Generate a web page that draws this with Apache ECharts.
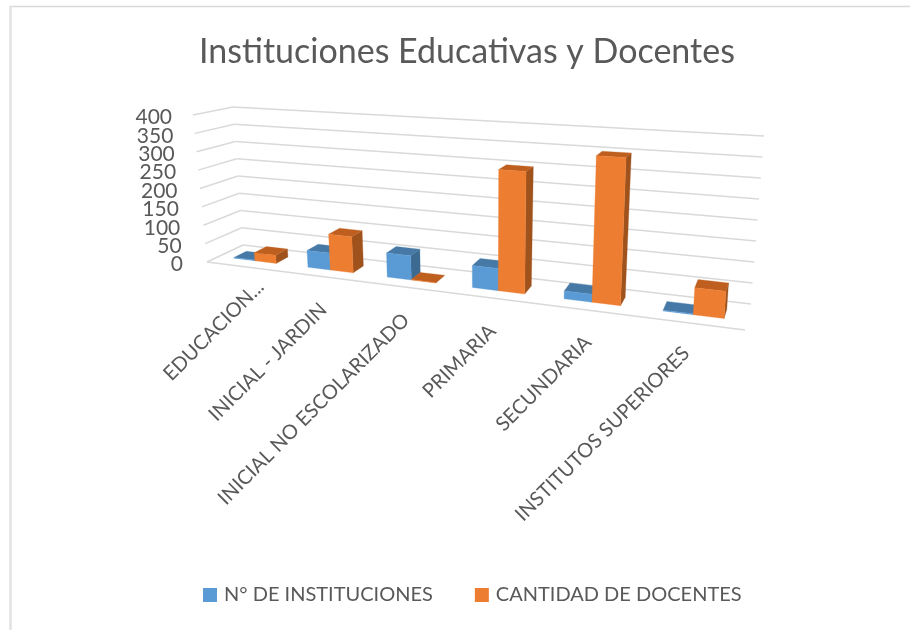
<!DOCTYPE html>
<html><head><meta charset="utf-8">
<style>html,body{margin:0;padding:0;background:#fff}#c{width:910px;height:630px}</style>
<script src="https://cdn.jsdelivr.net/npm/echarts@6/dist/echarts.min.js"></script>
</head><body><div id="c"></div>
<script>
const categories = ['EDUCACION...','INICIAL - JARDIN','INICIAL NO ESCOLARIZADO','PRIMARIA','SECUNDARIA','INSTITUTOS SUPERIORES'];
const instituciones = [2,45,62,55,19,2];
const docentes = [22,95,1,300,350,62];
const yTicks = [0,50,100,150,200,250,300,350,400];

// Oblique projection of the plot box: (across, up, depth) in 0..1 to pixels
const C = {f0l:[207,262],f0r:[745,330],b0l:[243,245],b0r:[751,304],f1l:[193,115],f1r:[757,148],b1l:[233,107],b1r:[764,136]};
const lerp=(a,b,t)=>[a[0]+(b[0]-a[0])*t,a[1]+(b[1]-a[1])*t];
const warp=u=>u/(u+1.247*(1-u));
function P(u,v,d){
  const t=warp(u);
  const f0=lerp(C.f0l,C.f0r,t),f1=lerp(C.f1l,C.f1r,t),b0=lerp(C.b0l,C.b0r,t),b1=lerp(C.b1l,C.b1r,t);
  return lerp(lerp(f0,f1,v),lerp(b0,b1,v),d);
}
const norm=(params,pt)=>{const r=params.coordSys;return [(pt[0]-r.x)/r.width,1-(pt[1]-r.y)/r.height];};
const GRID='#D9D9D9', TXT='#595959', FONT='Lato, Carlito, "Noto Sans", sans-serif';
const D0=1/3,D1=0.69,BAR=0.29;
const labelNudge=[[14,-13],[0,0],[0,0],[-2,0],[-2,-1],[-7,-3]];

function barRender(side,cols){
  return function(params,api){
    const p=api.coord([api.value(0),api.value(1)]);
    const [uc,v]=norm(params,p);
    const w=api.size([1,0])[0]/params.coordSys.width*BAR;
    const u0=side<0?uc-w:uc,u1=side<0?uc:uc+w;
    const poly=(pts,fill)=>({type:'polygon',shape:{points:pts},style:{fill,stroke:fill,lineWidth:0.3}});
    return {type:'group',children:[
      poly([P(u1,0,D0),P(u1,0,D1),P(u1,v,D1),P(u1,v,D0)],cols[2]),
      poly([P(u0,v,D0),P(u1,v,D0),P(u1,v,D1),P(u0,v,D1)],cols[1]),
      poly([P(u0,0,D0),P(u1,0,D0),P(u1,v,D0),P(u0,v,D0)],cols[0])
    ]};
  };
}
function wallRender(params,api){
  const val=api.value(0);
  const [,v]=norm(params,api.coord([0,val]));
  const line=(a,b)=>({type:'line',shape:{x1:a[0],y1:a[1],x2:b[0],y2:b[1]},style:{stroke:GRID,lineWidth:1.5}});
  const a=P(0,v,0),b=P(0,v,1),c=P(1,v,1);
  const kids=[line(a,b),line(b,c),
    {type:'text',x:a[0]-21-(1-v)*3,y:a[1]+2.5,style:{text:String(val),align:'right',verticalAlign:'middle',fill:TXT,font:'21px '+FONT}}];
  if(val===0) kids.push(line(a,P(1,0,0)));
  return {type:'group',children:kids};
}
function labelRender(params,api){
  const i=api.value(0);
  const [u]=norm(params,api.coord([i,0]));
  const p=P(u,0,0);
  return {type:'text',x:p[0]+3+labelNudge[i][0],y:p[1]+30+labelNudge[i][1],rotation:Math.PI/4,
    style:{text:categories[i],align:'right',verticalAlign:'middle',fill:TXT,font:'20px '+FONT}};
}
const chart=echarts.init(document.getElementById('c'),null,{renderer:'canvas'});
chart.setOption({
  animation:false,backgroundColor:'#fff',
  title:{text:'Instituciones Educativas y Docentes',left:194,top:30,textStyle:{fontFamily:FONT,fontWeight:400,fontSize:34,color:TXT}},
  graphic:[
    {type:'line',shape:{x1:10,y1:6.5,x2:910,y2:6.5},style:{stroke:'#D9D9D9',lineWidth:1.5},silent:true},
    {type:'line',shape:{x1:10.5,y1:6,x2:10.5,y2:630},style:{stroke:'#E2E2E2',lineWidth:2.5},silent:true}
  ],
  legend:{bottom:20,left:198,data:['N° DE INSTITUCIONES','CANTIDAD DE DOCENTES'],icon:'rect',itemWidth:14,itemHeight:14,itemGap:42,textStyle:{fontFamily:FONT,fontSize:20,color:TXT,padding:[0,0,0,2]}},
  grid:{left:207,top:115,width:540,height:147},
  xAxis:{type:'category',data:categories,show:false},
  yAxis:{type:'value',min:0,max:400,interval:50,show:false},
  series:[
    {type:'custom',name:'walls',silent:true,clip:false,data:yTicks.map(v=>[v]),encode:{y:0},renderItem:wallRender,z:1},
    {type:'custom',name:'N° DE INSTITUCIONES',clip:false,itemStyle:{color:'#5B9BD5'},data:instituciones.map((v,i)=>[i,v]),encode:{x:0,y:1},renderItem:barRender(-1,['#5B9BD5','#4679A6','#3C6A91']),z:2},
    {type:'custom',name:'CANTIDAD DE DOCENTES',clip:false,itemStyle:{color:'#ED7D31'},data:docentes.map((v,i)=>[i,v]),encode:{x:0,y:1},renderItem:barRender(1,['#ED7D31','#BE5F1F','#9F521C']),z:3},
    {type:'custom',name:'labels',silent:true,clip:false,data:categories.map((c,i)=>[i]),encode:{x:0},renderItem:labelRender,z:4}
  ]
});
</script></body></html>
